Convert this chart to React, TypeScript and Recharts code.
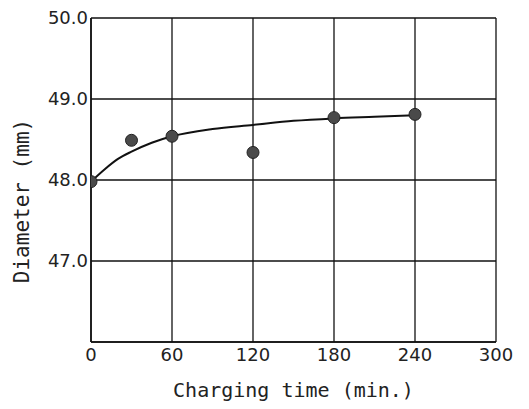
import React from 'react';
import { ComposedChart, Line, Scatter, XAxis, YAxis, CartesianGrid, Label } from 'recharts';

// Measured diameters (points)
const measuredTime = [0, 30, 60, 120, 180, 240];
const measuredDiameter = [47.98, 48.49, 48.54, 48.34, 48.77, 48.81];

// Fitted curve
const curveTime = [0, 10, 20, 30, 45, 60, 90, 120, 150, 180, 210, 240];
const curveDiameter = [47.98, 48.13, 48.26, 48.35, 48.46, 48.54, 48.63, 48.68, 48.73, 48.76, 48.78, 48.80];

const xTicks = [0, 60, 120, 180, 240, 300];
const yTicks = [47, 48, 49, 50];

const points = measuredTime.map((t, i) => ({ x: t, y: measuredDiameter[i] }));
const curve = curveTime.map((t, i) => ({ x: t, y: curveDiameter[i] }));

const tickFont = { fontFamily: 'DejaVu Sans', fontSize: 18, fill: '#222' };
const labelFont = 'DejaVu Sans Mono';

const YLabel = (props: any) => {
  const vb = props.viewBox || {};
  const cx = (vb.x || 0) + 22;
  const cy = (vb.y || 0) + (vb.height || 0) / 2 + 21;
  return (
    <text
      x={cx}
      y={cy}
      transform={`rotate(-90, ${cx}, ${cy})`}
      textAnchor="middle"
      dominantBaseline="central"
      fontFamily={labelFont}
      fontSize={21}
      fill="#222"
    >
      Diameter (mm)
    </text>
  );
};

const XLabel = (props: any) => {
  const vb = props.viewBox || {};
  const cx = (vb.x || 0) + (vb.width || 0) / 2;
  const cy = (vb.y || 0) + 55;
  return (
    <text x={cx} y={cy} textAnchor="middle" fontFamily={labelFont} fontSize={20} fill="#222">
      Charging time (min.)
    </text>
  );
};

const Dot = (props: any) => {
  const { cx, cy } = props;
  return <circle cx={cx} cy={cy} r={6} fill="#4a4a4a" stroke="#222" strokeWidth={1} />;
};

export default function App() {
  return (
    <div style={{ position: 'absolute', left: 0, top: 0, background: '#fff' }}>
      <ComposedChart width={529} height={409} margin={{ top: 18, right: 33, bottom: 0, left: 0 }}>
        <CartesianGrid stroke="#111" strokeWidth={1.3} />
        <XAxis
          type="number"
          dataKey="x"
          domain={[0, 300]}
          ticks={xTicks}
          height={67}
          tickLine={false}
          tickSize={6}
          tickMargin={0}
          axisLine={{ stroke: '#111', strokeWidth: 1.6 }}
          tick={tickFont}
          allowDataOverflow
        >
          <Label content={<XLabel />} />
        </XAxis>
        <YAxis
          type="number"
          dataKey="y"
          domain={[46, 50]}
          ticks={yTicks}
          width={91}
          tickLine={false}
          tickSize={3}
          tickMargin={0}
          axisLine={{ stroke: '#111', strokeWidth: 1.6 }}
          tick={tickFont}
          tickFormatter={(v: number) => v.toFixed(1)}
          allowDataOverflow
        >
          <Label content={<YLabel />} />
        </YAxis>
        <Line
          data={curve}
          dataKey="y"
          type="monotone"
          stroke="#111"
          strokeWidth={2}
          dot={false}
          activeDot={false}
          isAnimationActive={false}
        />
        <Scatter data={points} dataKey="y" shape={<Dot />} isAnimationActive={false} />
      </ComposedChart>
    </div>
  );
}
